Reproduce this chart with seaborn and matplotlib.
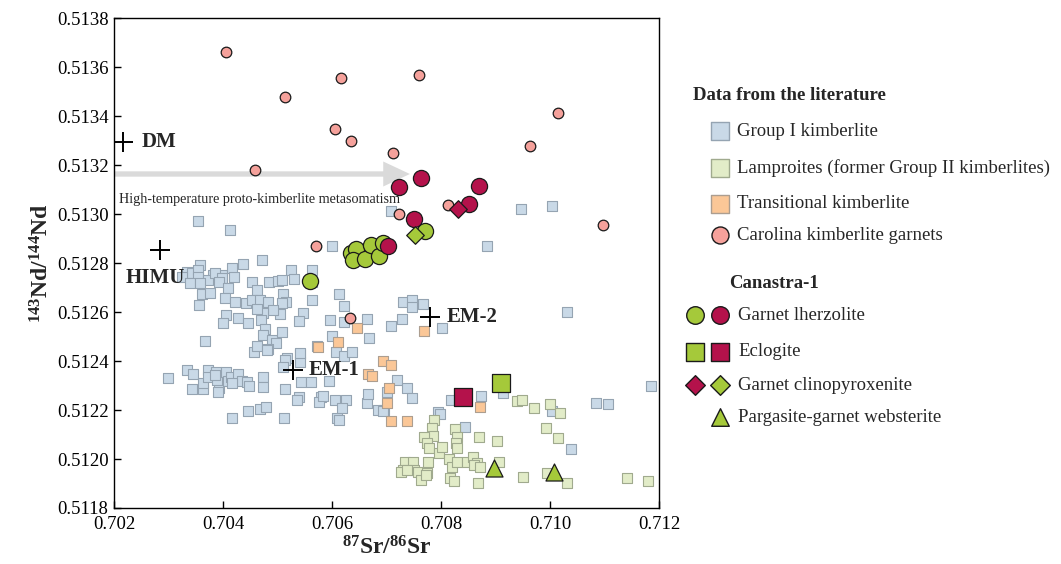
import matplotlib
matplotlib.use("Agg")
import matplotlib.pyplot as plt
import seaborn as sns
import pandas as pd

# ---------------------------------------------------------------- data
# Group I kimberlites (87Sr/86Sr, 143Nd/144Nd)
group1_sr = [0.70354, 0.70413, 0.70600, 0.70472, 0.70437, 0.70358, 0.70525, 0.70563,
             0.70334, 0.70343, 0.70354, 0.70382, 0.70398, 0.70417, 0.70420, 0.70325,
             0.70354, 0.70373, 0.70385, 0.70398, 0.70340, 0.70358, 0.70393, 0.70409,
             0.70453, 0.70484, 0.70501, 0.70530, 0.70563, 0.70462, 0.70510, 0.70361,
             0.70376, 0.70404, 0.70422, 0.70442, 0.70453, 0.70468, 0.70483, 0.70516,
             0.70563, 0.70356, 0.70547, 0.70540, 0.70508, 0.70505, 0.70492, 0.70473,
             0.70470, 0.70462, 0.70406, 0.70428, 0.70446, 0.70400, 0.70477, 0.70473,
             0.70490, 0.70497, 0.70508, 0.70483, 0.70457, 0.70462, 0.70367, 0.70573,
             0.70541, 0.70517, 0.70508, 0.70596, 0.70613, 0.70622, 0.70664, 0.70622,
             0.70600, 0.70668, 0.70607, 0.70622, 0.70637, 0.70708, 0.70728, 0.70730,
             0.70747, 0.70747, 0.70767, 0.70802, 0.70708, 0.70947, 0.71004, 0.70884,
             0.71031, 0.70541, 0.70514, 0.70510, 0.70481,
             0.70299, 0.70334, 0.70345, 0.70343, 0.70363, 0.70363, 0.70373, 0.70373,
             0.70387, 0.70393, 0.70389, 0.70406, 0.70409, 0.70415, 0.70428, 0.70435,
             0.70444, 0.70448, 0.70473, 0.70473, 0.70514, 0.70543, 0.70561, 0.70595,
             0.70540, 0.70536, 0.70580, 0.70576, 0.70446, 0.70468, 0.70479, 0.70417,
             0.70512, 0.70609, 0.70606, 0.70584, 0.70626, 0.70618, 0.70613, 0.70664,
             0.70666, 0.70684, 0.70695, 0.70719, 0.70738, 0.70747, 0.70701, 0.70694,
             0.70818, 0.70873, 0.70914, 0.70795, 0.70844, 0.71039, 0.71004, 0.71084,
             0.71106, 0.71185, 0.70391, 0.70417, 0.70385, 0.70798, 0.70541]
group1_nd = [0.512973, 0.512936, 0.512871, 0.512813, 0.512797, 0.512793, 0.512773, 0.512773,
             0.512765, 0.512760, 0.512773, 0.512752, 0.512752, 0.512781, 0.512744, 0.512744,
             0.512744, 0.512732, 0.512760, 0.512740, 0.512720, 0.512720, 0.512724, 0.512699,
             0.512724, 0.512724, 0.512728, 0.512736, 0.512724, 0.512691, 0.512675, 0.512675,
             0.512679, 0.512658, 0.512642, 0.512638, 0.512650, 0.512650, 0.512642, 0.512642,
             0.512650, 0.512630, 0.512597, 0.512565, 0.512638, 0.512593, 0.512609, 0.512597,
             0.512569, 0.512613, 0.512589, 0.512577, 0.512556, 0.512556, 0.512532, 0.512507,
             0.512487, 0.512475, 0.512520, 0.512450, 0.512438, 0.512462, 0.512483, 0.512462,
             0.512430, 0.512413, 0.512732, 0.512569, 0.512675, 0.512626, 0.512573, 0.512560,
             0.512503, 0.512495, 0.512438, 0.512422, 0.512438, 0.512544, 0.512573, 0.512642,
             0.512650, 0.512622, 0.512634, 0.512536, 0.513014, 0.513022, 0.513034, 0.512871,
             0.512601, 0.512397, 0.512405, 0.512377, 0.512446,
             0.512332, 0.512364, 0.512348, 0.512287, 0.512287, 0.512312, 0.512364, 0.512336,
             0.512356, 0.512291, 0.512324, 0.512356, 0.512320, 0.512336, 0.512348, 0.512320,
             0.512316, 0.512299, 0.512336, 0.512295, 0.512287, 0.512316, 0.512316, 0.512320,
             0.512254, 0.512242, 0.512254, 0.512234, 0.512197, 0.512205, 0.512214, 0.512169,
             0.512169, 0.512169, 0.512242, 0.512258, 0.512242, 0.512209, 0.512160, 0.512230,
             0.512267, 0.512201, 0.512201, 0.512324, 0.512291, 0.512250, 0.512275, 0.512197,
             0.512242, 0.512258, 0.512271, 0.512193, 0.512132, 0.512042, 0.512197, 0.512230,
             0.512226, 0.512299, 0.512275, 0.512312, 0.512344, 0.512185, 0.512434]

# Lamproites (former Group II kimberlites)
lamp_sr = [0.70787, 0.70784, 0.70785, 0.70769, 0.70774, 0.70778, 0.70796, 0.70802,
           0.70826, 0.70829, 0.70828, 0.70829, 0.70870, 0.70903, 0.70815, 0.70820,
           0.70817, 0.70824, 0.70829, 0.70848, 0.70859, 0.70866, 0.70861, 0.70872,
           0.70868, 0.70906, 0.70950, 0.70995, 0.71031, 0.71018, 0.70971, 0.71000,
           0.70993, 0.71015, 0.70734, 0.70749, 0.70751, 0.70730, 0.70727, 0.70738,
           0.70758, 0.70774, 0.70776, 0.70763, 0.70772, 0.71141, 0.71180, 0.70940,
           0.70949]
lamp_nd = [0.512160, 0.512128, 0.512095, 0.512091, 0.512067, 0.512046, 0.512026, 0.512050,
           0.512124, 0.512091, 0.512067, 0.512046, 0.512091, 0.512075, 0.512001, 0.511969,
           0.511924, 0.511912, 0.511989, 0.511989, 0.512009, 0.511985, 0.511977, 0.511969,
           0.511903, 0.511989, 0.511928, 0.511944, 0.511903, 0.512189, 0.512209, 0.512226,
           0.512128, 0.512087, 0.511989, 0.511989, 0.511956, 0.511956, 0.511948, 0.511956,
           0.511948, 0.511944, 0.511989, 0.511916, 0.511936, 0.511924, 0.511912, 0.512238,
           0.512242]

# Transitional kimberlites
trans_sr = [0.70574, 0.70611, 0.70646, 0.70694, 0.70708, 0.70666, 0.70673, 0.70705,
            0.70701, 0.70708, 0.70738, 0.70769, 0.70872]
trans_nd = [0.512458, 0.512479, 0.512536, 0.512401, 0.512385, 0.512348, 0.512340, 0.512291,
            0.512230, 0.512156, 0.512156, 0.512524, 0.512214]

# Carolina kimberlite garnets
carol_sr = [0.70405, 0.70514, 0.70617, 0.70606, 0.70635, 0.70760, 0.70459, 0.70712,
            0.71015, 0.70963, 0.71097, 0.70571, 0.70723, 0.70813, 0.70633]
carol_nd = [0.513662, 0.513479, 0.513556, 0.513348, 0.513298, 0.513569, 0.513181, 0.513250,
            0.513413, 0.513279, 0.512956, 0.512871, 0.513001, 0.513038, 0.512577]

# Canastra-1 xenoliths
lherz_green_sr = [0.70635, 0.70644, 0.70639, 0.70661, 0.70672, 0.70686, 0.70694, 0.70771, 0.70560]
lherz_green_nd = [0.512842, 0.512858, 0.512813, 0.512817, 0.512874, 0.512830, 0.512883, 0.512932, 0.512728]
lherz_red_sr = [0.70723, 0.70763, 0.70870, 0.70851, 0.70751, 0.70703]
lherz_red_nd = [0.513111, 0.513148, 0.513115, 0.513042, 0.512981, 0.512871]
eclog_green_sr, eclog_green_nd = [0.70911], [0.512310]
eclog_red_sr, eclog_red_nd = [0.70840], [0.512255]
cpx_red_sr, cpx_red_nd = [0.70831], [0.513022]
cpx_green_sr, cpx_green_nd = [0.70752], [0.512916]
webst_sr = [0.70897, 0.71008]
webst_nd = [0.511965, 0.511949]

# Mantle end-members
em_names = ["DM", "HIMU", "EM-2", "EM-1"]
em_sr = [0.70217, 0.70284, 0.70780, 0.70529]
em_nd = [0.513295, 0.512854, 0.512578, 0.512365]

# ---------------------------------------------------------------- style
sns.set_theme(style="white")
plt.rcParams["font.family"] = ["Liberation Serif", "DejaVu Serif"]
plt.rcParams["mathtext.fontset"] = "custom"
plt.rcParams["mathtext.rm"] = "Liberation Serif"
plt.rcParams["mathtext.bf"] = "Liberation Serif:bold"

BLUE_F, BLUE_E = "#c9d9e7", "#95a4b2"
LAMP_F, LAMP_E = "#e2ecc8", "#a0aa8e"
TRANS_F, TRANS_E = "#fbc797", "#ac9e90"
CAROL = "#f5a19b"
GREEN = "#a5c93a"
RED = "#b4124b"
EDGE = "#1a1a1a"

fig = plt.figure(figsize=(10.61, 5.64), dpi=100)
ax = fig.add_axes([0.1074, 0.0993, 0.5137, 0.8683])


def scatter(xs, ys, marker, s, face, edge, lw, z):
    df = pd.DataFrame({"sr": xs, "nd": ys})
    sns.scatterplot(data=df, x="sr", y="nd", marker=marker, s=s, color=face,
                    edgecolor=edge, linewidth=lw, ax=ax, zorder=z, legend=False)


# literature data
scatter(group1_sr, group1_nd, "s", 42, BLUE_F, BLUE_E, 0.8, 2)
scatter(lamp_sr, lamp_nd, "s", 42, LAMP_F, LAMP_E, 0.8, 2)
scatter(trans_sr, trans_nd, "s", 42, TRANS_F, TRANS_E, 0.8, 2)
scatter(carol_sr, carol_nd, "o", 58, CAROL, EDGE, 0.9, 3)

# metasomatism arrow
ax.annotate("", xy=(0.70743, 0.513164), xytext=(0.70200, 0.513164),
            arrowprops=dict(arrowstyle="simple,head_length=1.6,head_width=1.5,tail_width=0.32",
                            color="#dadada", lw=0, shrinkA=0, shrinkB=0),
            zorder=2.5)
ax.text(0.70209, 0.51306, "High-temperature proto-kimberlite metasomatism",
        fontsize=10.2, ha="left", va="center", zorder=4)

# Canastra-1 samples
scatter(lherz_green_sr, lherz_green_nd, "o", 135, GREEN, EDGE, 0.9, 5)
scatter(lherz_red_sr, lherz_red_nd, "o", 135, RED, EDGE, 0.9, 5)
scatter(eclog_green_sr, eclog_green_nd, "s", 150, GREEN, EDGE, 0.9, 5)
scatter(eclog_red_sr, eclog_red_nd, "s", 150, RED, EDGE, 0.9, 5)
scatter(cpx_red_sr, cpx_red_nd, "D", 80, RED, EDGE, 0.9, 6)
scatter(cpx_green_sr, cpx_green_nd, "D", 80, GREEN, EDGE, 0.9, 6)
scatter(webst_sr, webst_nd, "^", 150, GREEN, EDGE, 0.9, 5)

# mantle end-members
scatter(em_sr, em_nd, "+", 190, "black", "black", 1.4, 6)
label_offsets = {"DM": (13, 0, "left"), "HIMU": (-3, -20, "center"),
                 "EM-2": (12, 0, "left"), "EM-1": (11, 0, "left")}
for name, x, y in zip(em_names, em_sr, em_nd):
    dx, dy, ha = label_offsets[name]
    ax.annotate(name, (x, y), xytext=(dx, dy), textcoords="offset points",
                fontsize=15, fontweight="bold", ha=ha, va="center", zorder=7)

# axes
ax.set_xlim(0.702, 0.712)
ax.set_ylim(0.5118, 0.5138)
ax.set_xticks([0.702, 0.704, 0.706, 0.708, 0.710, 0.712])
ax.set_xticklabels(["0.702", "0.704", "0.706", "0.708", "0.710", "0.712"])
yt = [0.5118 + 0.0002 * i for i in range(11)]
ax.set_yticks(yt)
ax.set_yticklabels([f"{v:.4f}" for v in yt])
ax.tick_params(axis="both", direction="in", length=5, width=1, colors="black",
               labelsize=13.5, bottom=True, left=True, top=False, right=False)
ax.tick_params(axis="x", pad=6)
ax.tick_params(axis="y", pad=4)
for sp in ax.spines.values():
    sp.set_color("black")
    sp.set_linewidth(1.0)
ax.set_xlabel(r"$\mathbf{^{87}Sr/^{86}Sr}$", fontsize=17, labelpad=2)
ax.set_ylabel(r"$\mathbf{^{143}Nd/^{144}Nd}$", fontsize=17, labelpad=2)
ax.grid(False)

# ---------------------------------------------------------------- key
lax = fig.add_axes([0, 0, 1, 1], zorder=10)
lax.set_xlim(0, 1061)
lax.set_ylim(564, 0)
lax.axis("off")

lax.text(693, 96, "Data from the literature", fontsize=13.5, fontweight="bold",
         ha="left", va="center")
key_lit = [("Group I kimberlite", "s", BLUE_F, BLUE_E, 131),
           ("Lamproites (former Group II kimberlites)", "s", LAMP_F, LAMP_E, 168),
           ("Transitional kimberlite", "s", TRANS_F, TRANS_E, 204),
           ("Carolina kimberlite garnets", "o", CAROL, EDGE, 235)]
for label, mk, fc, ec, yy in key_lit:
    lax.scatter([720], [yy], marker=mk, s=150, c=fc, edgecolors=ec, linewidths=1.0)
    lax.text(737, yy, label, fontsize=13.5, ha="left", va="center")

lax.text(729, 283, "Canastra-1", fontsize=13.5, fontweight="bold", ha="left", va="center")
key_can = [("Garnet lherzolite", [("o", GREEN), ("o", RED)], 315),
           ("Eclogite", [("s", GREEN), ("s", RED)], 352),
           ("Garnet clinopyroxenite", [("D", RED), ("D", GREEN)], 385),
           ("Pargasite-garnet websterite", [None, ("^", GREEN)], 417)]
for label, mks, yy in key_can:
    for xx, m in zip([695, 720], mks):
        if m is None:
            continue
        size = 100 if m[0] == "D" else 160
        lax.scatter([xx], [yy], marker=m[0], s=size, c=m[1], edgecolors=EDGE, linewidths=1.0)
    lax.text(738, yy, label, fontsize=13.5, ha="left", va="center")

fig.savefig("out.png", dpi=100)
